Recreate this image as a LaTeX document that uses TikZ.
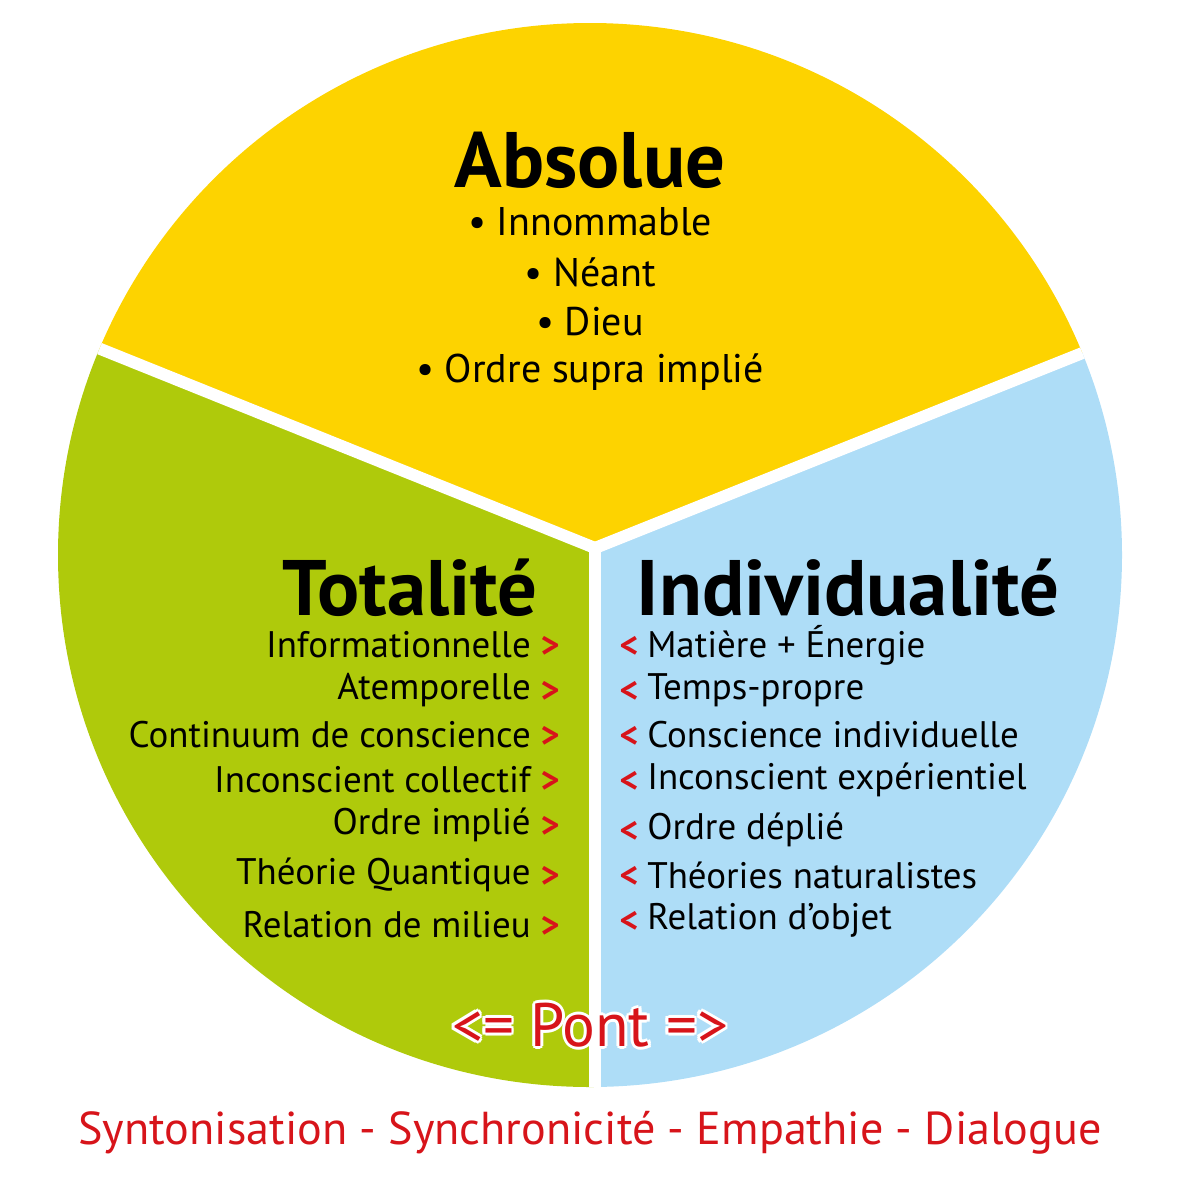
\documentclass[tikz,border=0pt]{standalone}
\usepackage{fontspec}
\setmainfont{PT Sans}
\usetikzlibrary{calc}
\definecolor{yel}{HTML}{FDD300}
\definecolor{grn}{HTML}{AFCA0B}
\definecolor{blu}{HTML}{AEDDF7}
\definecolor{red1}{HTML}{D7141A}
\begin{document}
\begin{tikzpicture}[x=0.75pt,y=-0.75pt,
 title/.style={font=\fontsize{59}{64}\selectfont\bfseries},
 item/.style={font=\fontsize{30}{34}\selectfont},
 lst/.style={font=\fontsize{27.7}{32}\selectfont,inner sep=0pt},
 mk/.style={font=\fontsize{27}{32}\selectfont\bfseries,text=red1,inner sep=0pt},
 pont/.style={font=\fontsize{46}{50}\selectfont,text=red1}]
\useasboundingbox (0,0) rectangle (1182,1182);
\coordinate (C) at (595,548);
\coordinate (O) at (590,555);
\begin{scope}
\clip (O) circle (532);
\fill[yel] (C) -- ($(C)!3!(98,348)$) -- (-200,-200) -- (1400,-200) -- ($(C)!3!(1085,352)$) -- cycle;
\fill[grn] (C) -- ($(C)!3!(98,348)$) -- (-200,1300) -- (595,1300) -- cycle;
\fill[blu] (C) -- ($(C)!3!(1085,352)$) -- (1400,1300) -- (595,1300) -- cycle;
\draw[white,line width=9] (C) -- ($(C)!3!(98,348)$);
\draw[white,line width=9] (C) -- ($(C)!3!(1085,352)$);
\draw[white,line width=9] (C) -- (595,1300);
\end{scope}
\node[title] (abs) at (590,160) {Absolue};
\node[item] (a1) at (590,222) {• Innommable};
\node[item] (a2) at (590,272) {• Néant};
\node[item] (a3) at (590,322) {• Dieu};
\node[item] (a4) at (590,372) {• Ordre supra implié};
\node[title,anchor=east] (tot) at (542,588) {Totalité};
\node[title,anchor=west] (ind) at (632,588) {Individualité};
\foreach \t [count=\i] in {Informationnelle,Atemporelle,Continuum de conscience,Inconscient collectif,Ordre implié,Théorie Quantique,Relation de milieu}{
 \pgfmathsetmacro{\yy}{\i<6 ? 645+45*(\i-1) : (\i==6 ? 875 : 925)}
 \node[lst,anchor=east] (l\i) at (531,\yy) {\t};
 \node[mk] (lm\i) at (550,\yy+2) {>};
}
\foreach \t [count=\i] in {Matière + Énergie,Temps-propre,Conscience individuelle,Inconscient expérientiel,Ordre déplié,Théories naturalistes,Relation d’objet}{
 \pgfmathsetmacro{\yy}{\i<5 ? 645+45*(\i-1) : 830+45*(\i-5)}
 \node[mk] (rm\i) at (629,\yy+2) {<};
 \node[lst,anchor=west] (r\i) at (647,\yy) {\t};
}
\foreach \dx/\dy in {2.2/0,-2.2/0,0/2.2,0/-2.2,1.6/1.6,-1.6/1.6,1.6/-1.6,-1.6/-1.6}{
 \node[pont,text=white] at ([xshift=\dx pt,yshift=\dy pt]590,1025) {<= Pont =>};}
\node[pont] (pont) at (590,1025) {<= Pont =>};
\node[font=\fontsize{34.6}{38}\selectfont,text=red1] (bot) at (590,1133) {Syntonisation - Synchronicité - Empathie - Dialogue};
\end{tikzpicture}
\end{document}
